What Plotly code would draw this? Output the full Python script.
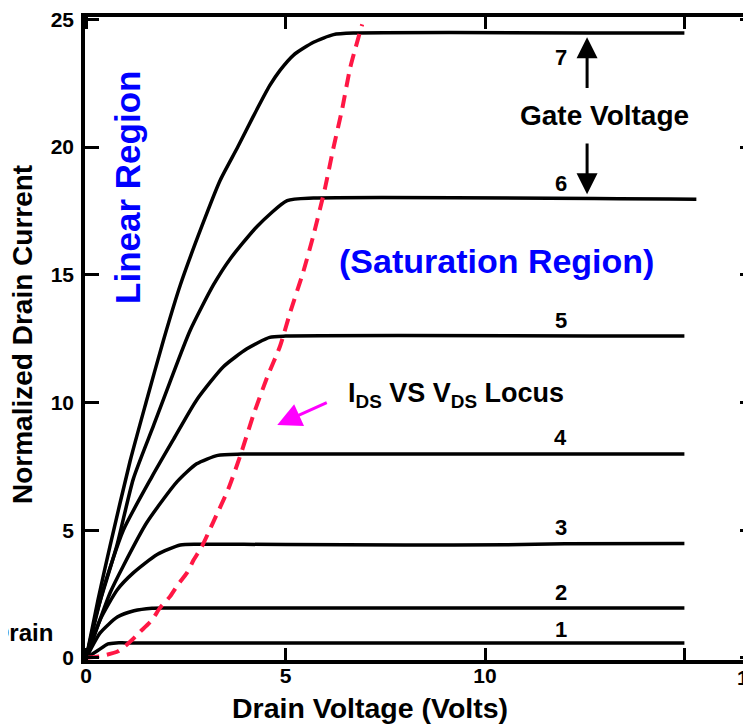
import plotly.graph_objects as go

# ---------------- data ----------------
# Drain current curves for gate voltages 1..7 (x = drain voltage, y = normalized drain current)
c1_v = [0, 0.3, 0.55, 0.75, 1.0, 15.0]
c1_i = [0, 0.30, 0.55, 0.59, 0.59, 0.59]

c2_v = [0, 0.35, 0.78, 1.2, 1.65, 2.0, 15.0]
c2_i = [0, 0.98, 1.60, 1.85, 1.95, 1.96, 1.96]

c3_v = [0, 0.35, 0.78, 1.18, 1.78, 2.36, 2.8, 5.0, 8.0, 10.5, 12.0, 15.0]
c3_i = [0, 1.50, 2.67, 3.33, 4.05, 4.42, 4.45, 4.44, 4.42, 4.43, 4.47, 4.48]

c4_v = [0, 0.1, 0.6, 0.93, 1.52, 2.28, 2.77, 3.3, 3.9, 15.0]
c4_i = [0, 0.43, 2.55, 3.60, 5.30, 6.90, 7.60, 7.93, 7.98, 7.98]

c5_v = [0, 0.43, 0.93, 1.65, 2.19, 2.77, 3.44, 4.03, 4.6, 5.0, 15.0]
c5_i = [0, 2.70, 5.00, 7.10, 8.56, 10.1, 11.4, 12.1, 12.55, 12.6, 12.6]

c6_v = [0, 0.27, 0.77, 1.18, 1.69, 2.1, 2.6, 3.19, 3.6, 4.29, 5.04, 5.7, 15.3]
c6_i = [0, 1.80, 4.40, 7.00, 9.10, 10.8, 12.8, 14.6, 15.6, 16.9, 17.9, 18.0, 17.96]

c7_v = [0, 0.3, 0.6, 1.1, 1.5, 1.93, 2.36, 2.9, 3.36, 3.8, 4.19, 4.6, 4.86, 5.2, 5.7, 6.2, 6.7, 15.0]
c7_i = [0, 2.30, 4.40, 7.70, 10.0, 12.4, 14.6, 16.9, 18.7, 20.0, 21.2, 22.4, 23.0, 23.6, 24.1, 24.4, 24.46, 24.46]

curves_v = [c1_v, c2_v, c3_v, c4_v, c5_v, c6_v, c7_v]
curves_i = [c1_i, c2_i, c3_i, c4_i, c5_i, c6_i, c7_i]
curve_labels = ["1", "2", "3", "4", "5", "6", "7"]

# IDS vs VDS locus (red dashed)
locus_v = [0, 0.4, 0.8, 1.1, 1.35, 1.65, 1.85, 2.1, 2.3, 2.53, 2.7, 2.9, 3.18, 3.56,
           3.86, 4.19, 4.54, 4.86, 5.11, 5.44, 5.69, 5.99, 6.19, 6.42, 6.62, 6.92]
locus_i = [0, 0.08, 0.26, 0.63, 1.02, 1.49, 1.96, 2.40, 2.87, 3.34, 3.85, 4.36, 5.30, 6.60,
           7.90, 9.50, 11.0, 12.2, 13.5, 15.1, 16.5, 18.4, 19.9, 21.5, 23.1, 24.8]

x_tick_vals = [0, 5, 10, 15]
x_tick_text = ["0", "5", "10", ""]
y_tick_vals = [0, 5, 10, 15, 20, 25]
y_tick_text = ["0", "5", "10", "15", "20", "25"]

# ---------------- figure ----------------
FONT = "Liberation Sans, Arial, sans-serif"
BLUE = "#0000FF"

fig = go.Figure()

for v, i, name in zip(curves_v, curves_i, curve_labels):
    fig.add_trace(go.Scatter(
        x=v, y=i, mode="lines", name=name,
        line=dict(color="black", width=3.5, shape="spline", smoothing=0.6),
        hoverinfo="skip", showlegend=False))

fig.add_trace(go.Scatter(
    x=locus_v, y=locus_i, mode="lines", name="locus",
    line=dict(color="#FF1744", width=4, dash="13px,8px", shape="spline", smoothing=0.6),
    hoverinfo="skip", showlegend=False))

# dummy trace on a right axis, used only to get the inward right-side ticks
fig.add_trace(go.Scatter(x=[None], y=[None], yaxis="y2", showlegend=False, hoverinfo="skip"))

annotations = []

# curve number labels
label_shift = [13, 15, 16, 17, 16, 16, -24]
for v, i, name, sh in zip(curves_v, curves_i, curve_labels, label_shift):
    annotations.append(dict(x=11.9, y=i[-1], xref="x", yref="y", text=name, showarrow=False,
                            xanchor="center", yanchor="middle", yshift=sh,
                            font=dict(family=FONT, size=22, color="black", weight="bold")))

# Gate voltage arrows
annotations.append(dict(x=12.56, y=24.3, ax=12.56, ay=22.25, xref="x", yref="y", axref="x", ayref="y",
                        text="", showarrow=True, arrowhead=2, arrowsize=1.4, arrowwidth=3, arrowcolor="black"))
annotations.append(dict(x=12.56, y=18.15, ax=12.56, ay=20.2, xref="x", yref="y", axref="x", ayref="y",
                        text="", showarrow=True, arrowhead=2, arrowsize=1.4, arrowwidth=3, arrowcolor="black"))
annotations.append(dict(x=13.0, y=21.25, xref="x", yref="y", text="Gate Voltage", showarrow=False,
                        xanchor="center", yanchor="middle",
                        font=dict(family=FONT, size=28, color="black", weight="bold")))

# Locus label and magenta arrow
annotations.append(dict(x=9.27, y=10.3, xref="x", yref="y",
                        text="I<sub>DS</sub> VS V<sub>DS</sub> Locus", showarrow=False,
                        xanchor="center", yanchor="middle",
                        font=dict(family=FONT, size=27, color="black", weight="bold")))
annotations.append(dict(x=4.79, y=9.12, ax=6.07, ay=10.02, xref="x", yref="y", axref="x", ayref="y",
                        text="", showarrow=True, arrowhead=2, arrowsize=1.6, arrowwidth=3,
                        arrowcolor="#FF00FF"))

# Region labels
annotations.append(dict(x=10.28, y=15.55, xref="x", yref="y", text="(Saturation Region)", showarrow=False,
                        xanchor="center", yanchor="middle",
                        font=dict(family=FONT, size=34, color=BLUE, weight="bold")))
annotations.append(dict(x=1.05, y=18.4, xref="x", yref="y", text="Linear Region", showarrow=False,
                        xanchor="center", yanchor="middle", textangle=-90,
                        font=dict(family=FONT, size=35, color=BLUE, weight="bold")))

# Axis titles and cropped labels (plot area is 666 x 643 px; page offsets of the reference)
PW, PH = 666.0, 643.0
annotations.append(dict(x=(370 - 85) / PW, y=-(708 - 660) / PH, xref="paper", yref="paper",
                        xanchor="center", yanchor="middle",
                        text="Drain Voltage (Volts)", showarrow=False,
                        font=dict(family=FONT, size=28.5, color="black", weight="bold")))
annotations.append(dict(x=(22 - 85) / PW, y=(660 - 335) / PH, xref="paper", yref="paper",
                        xanchor="center", yanchor="middle",
                        text="Normalized Drain Current", showarrow=False, textangle=-90,
                        font=dict(family=FONT, size=28, color="black", weight="bold")))
annotations.append(dict(x=(55 - 85) / PW, y=(660 - 632) / PH, xref="paper", yref="paper",
                        xanchor="right", yanchor="middle", text="Drain", showarrow=False,
                        font=dict(family=FONT, size=24, color="black", weight="bold")))
annotations.append(dict(x=(735 - 85) / PW, y=-(677 - 660) / PH, xref="paper", yref="paper",
                        xanchor="left", yanchor="middle", text="15", showarrow=False,
                        font=dict(family=FONT, size=21, color="black", weight="bold")))

axis_common = dict(showgrid=False, zeroline=False, ticks="inside", tickwidth=3, tickcolor="black",
                   linecolor="black", linewidth=3.5, ticklabeloverflow="allow",
                   tickfont=dict(family=FONT, size=21, color="black", weight="bold"))

# the page has an 8px body margin, so the figure is drawn 8px in from the top-left
fig.update_layout(
    width=743, height=718,
    margin=dict(l=77, r=0, t=9, b=66),
    paper_bgcolor="white", plot_bgcolor="white",
    showlegend=False,
    xaxis=dict(range=[-0.03, 16.67], tickvals=x_tick_vals, ticktext=x_tick_text, ticklen=12,
               showline=True, mirror="ticks", ticklabelstandoff=-6, automargin=False, **axis_common),
    yaxis=dict(range=[-0.08, 25.09], tickvals=y_tick_vals, ticktext=y_tick_text, ticklen=14,
               showline=True, mirror=False, ticklabelstandoff=3, automargin=False, **axis_common),
    yaxis2=dict(range=[-0.08, 25.09], overlaying="y", side="right", tickvals=y_tick_vals,
                showticklabels=False, showline=False, showgrid=False, zeroline=False,
                ticks="inside", ticklen=11, tickwidth=3, tickcolor="black", automargin=False),
    annotations=annotations,
)

fig.write_html("out.html")
